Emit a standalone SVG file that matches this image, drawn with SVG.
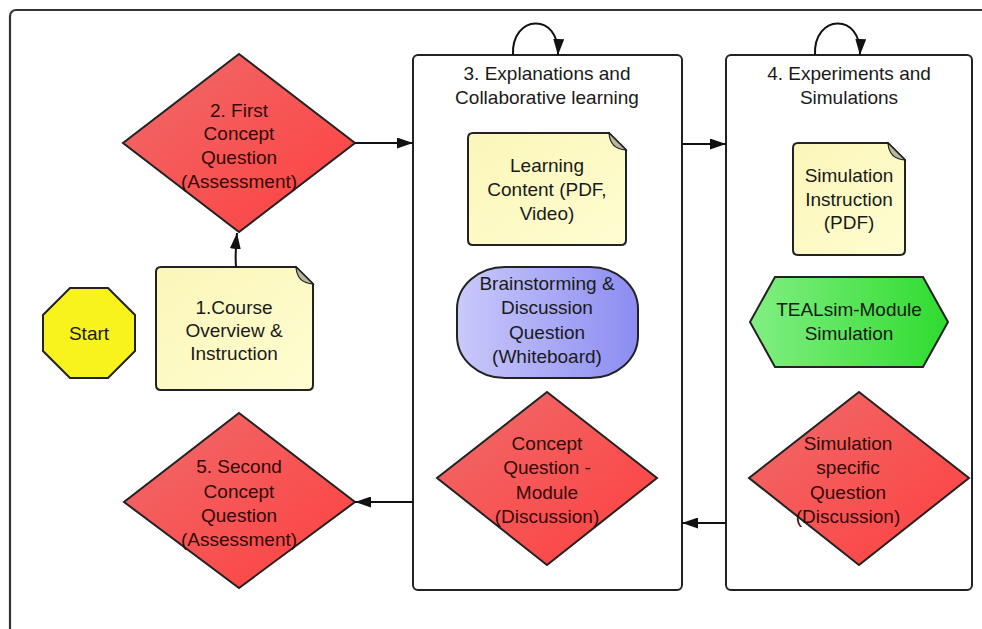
<svg xmlns="http://www.w3.org/2000/svg" width="982" height="629" viewBox="0 0 982 629">
<defs>
<linearGradient id="gRed" x1="0" y1="0" x2="1" y2="1"><stop offset="0" stop-color="#ef6b6b"/><stop offset="1" stop-color="#ff3f3f"/></linearGradient>
<linearGradient id="gYel" x1="0" y1="0" x2="1" y2="1"><stop offset="0" stop-color="#fbf6b8"/><stop offset="1" stop-color="#fffdd2"/></linearGradient>
<linearGradient id="gBlue" x1="0" y1="0" x2="1" y2="0"><stop offset="0" stop-color="#c9c9fb"/><stop offset="1" stop-color="#8c8cf2"/></linearGradient>
<linearGradient id="gGreen" x1="0" y1="0" x2="1" y2="0"><stop offset="0" stop-color="#82ef82"/><stop offset="1" stop-color="#2fdb2f"/></linearGradient>
<marker id="arr" markerUnits="userSpaceOnUse" markerWidth="16" markerHeight="11" refX="16" refY="5.5" orient="auto"><path d="M0,0 L16,5.5 L0,11 z" fill="#111"/></marker>
</defs>
<style>
text{font-family:"Liberation Sans",Arial,sans-serif;font-size:19px;text-anchor:middle;fill:#1a1a1a}
.red{fill:url(#gRed);stroke:#222;stroke-width:2}
.red-t{fill:#330a0a}
.doc{fill:url(#gYel);stroke:#222;stroke-width:2}
.fold{fill:#b9b9a2;stroke:#222;stroke-width:1.2}
.box{fill:#fff;stroke:#222;stroke-width:2}
.con{fill:none;stroke:#111;stroke-width:2;marker-end:url(#arr)}
</style>
<rect x="0" y="0" width="982" height="629" fill="#fff"/>
<rect x="10" y="10" width="990" height="640" rx="6" fill="none" stroke="#333" stroke-width="2.2"/>

<g id="box3">
<rect class="box" x="413" y="55" width="269" height="535" rx="5"/>
<text x="547" y="80">3. Explanations and</text>
<text x="547" y="104">Collaborative learning</text>
</g>
<g id="box4">
<rect class="box" x="726" y="55" width="246" height="535" rx="5"/>
<text x="849" y="80">4. Experiments and</text>
<text x="849" y="104">Simulations</text>
</g>

<g id="start">
<polygon points="70,288 108,288 135,315 135,351 108,378 70,378 43,351 43,315" fill="#f8f31c" stroke="#222" stroke-width="2"/>
<text x="89" y="340">Start</text>
</g>

<g id="course">
<path class="doc" d="M161,267 H296 L313,284 V385 Q313,390 308,390 H161 Q156,390 156,385 V272 Q156,267 161,267 Z"/>
<path class="fold" d="M296,267 Q297,283 313,284 Z"/>
<text x="234" y="314">1.Course</text>
<text x="234" y="337">Overview &amp;</text>
<text x="234" y="360">Instruction</text>
</g>

<g id="first-question">
<polygon class="red" points="239,54 355,143 239,232 123,143"/>
<text class="red-t" x="239" y="117">2. First</text>
<text class="red-t" x="239" y="140">Concept</text>
<text class="red-t" x="239" y="164">Question</text>
<text class="red-t" x="239" y="188">(Assessment)</text>
</g>

<g id="second-question">
<polygon class="red" points="239,413 355,502 239,588 124,502"/>
<text class="red-t" x="239" y="473">5. Second</text>
<text class="red-t" x="239" y="498">Concept</text>
<text class="red-t" x="239" y="522">Question</text>
<text class="red-t" x="239" y="546">(Assessment)</text>
</g>

<g id="learning-content">
<path class="doc" d="M473,133 H609 L626,150 V240 Q626,245 621,245 H473 Q468,245 468,240 V138 Q468,133 473,133 Z"/>
<path class="fold" d="M609,133 Q610,149 626,150 Z"/>
<text x="547" y="172">Learning</text>
<text x="547" y="196">Content (PDF,</text>
<text x="547" y="220">Video)</text>
</g>

<g id="brainstorming">
<rect x="457" y="267" width="181" height="111" rx="48" ry="42" fill="url(#gBlue)" stroke="#222" stroke-width="2"/>
<text x="547" y="290" fill="#15153a">Brainstorming &amp;</text>
<text x="547" y="314" fill="#15153a">Discussion</text>
<text x="547" y="339" fill="#15153a">Question</text>
<text x="547" y="363" fill="#15153a">(Whiteboard)</text>
</g>

<g id="concept-module">
<polygon class="red" points="547,392 657,478 547,565 437,478"/>
<text class="red-t" x="547" y="450">Concept</text>
<text class="red-t" x="547" y="474">Question -</text>
<text class="red-t" x="547" y="499">Module</text>
<text class="red-t" x="547" y="523">(Discussion)</text>
</g>

<g id="simulation-instruction">
<path class="doc" d="M798,143 H888 L905,160 V250 Q905,255 900,255 H798 Q793,255 793,250 V148 Q793,143 798,143 Z"/>
<path class="fold" d="M888,143 Q889,159 905,160 Z"/>
<text x="849" y="182">Simulation</text>
<text x="849" y="206">Instruction</text>
<text x="849" y="229">(PDF)</text>
</g>

<g id="tealsim">
<polygon points="750,322 775,277 923,277 948,322 923,367 775,367" fill="url(#gGreen)" stroke="#222" stroke-width="2"/>
<text x="849" y="316" fill="#0d300d">TEALsim-Module</text>
<text x="849" y="340" fill="#0d300d">Simulation</text>
</g>

<g id="simulation-question">
<polygon class="red" points="859,392 969,478 859,565 749,478"/>
<text class="red-t" x="848" y="450">Simulation</text>
<text class="red-t" x="848" y="474">specific</text>
<text class="red-t" x="848" y="499">Question</text>
<text class="red-t" x="848" y="523">(Discussion)</text>
</g>

<g id="connectors">
<path class="con" d="M236,267 Q235,252 237,233"/>
<path class="con" d="M355,143 L413,143"/>
<path class="con" d="M682,144 L726,144"/>
<path class="con" d="M726,523 L682,523"/>
<path class="con" d="M413,502 L355,502"/>
<path class="con" d="M513,55 C511,14 560,12 558,55"/>
<path class="con" d="M815,55 C813,14 862,12 860,55"/>
</g>
</svg>
